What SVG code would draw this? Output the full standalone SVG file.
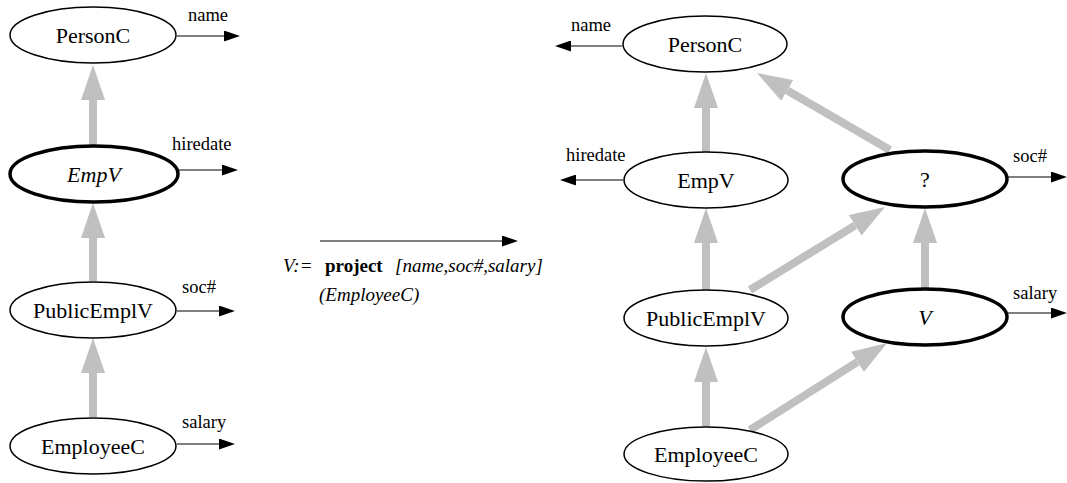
<svg xmlns="http://www.w3.org/2000/svg" width="1067" height="483" viewBox="0 0 1067 483">
<style>
.n{fill:#fff;stroke:#000;stroke-width:1.5}
.v{fill:#fff;stroke:#000;stroke-width:3.5}
.t{font-size:22px;text-anchor:middle;fill:#000}
.l{font-size:18.5px;fill:#000}
.f{font-size:19px;fill:#000}
.g{stroke:#c0c0c0;stroke-width:8;fill:none;marker-end:url(#ga)}
.b{stroke:#000;stroke-width:1.2;fill:none;marker-end:url(#ba)}
</style>
<defs>
<marker id="ga" markerUnits="userSpaceOnUse" viewBox="0 0 35 24" refX="0" refY="12" markerWidth="35" markerHeight="24" orient="auto"><path d="M0,0L35,12L0,24z" fill="#c0c0c0"/></marker>
<marker id="ba" markerUnits="userSpaceOnUse" viewBox="0 0 16 11" refX="0" refY="5.5" markerWidth="16" markerHeight="11" orient="auto"><path d="M0,0L16,5.5L0,11z" fill="#000"/></marker>
</defs>
<g id="connectors">
<line class="g" x1="93" y1="145" x2="93" y2="100"/>
<line class="g" x1="93" y1="281" x2="93" y2="238"/>
<line class="g" x1="93" y1="417" x2="93" y2="373"/>
<line class="b" x1="177" y1="36" x2="224" y2="36"/>
<line class="b" x1="179" y1="170" x2="222" y2="170"/>
<line class="b" x1="177" y1="311" x2="219" y2="311"/>
<line class="b" x1="177" y1="444" x2="219" y2="444"/>
<line class="b" x1="320" y1="241" x2="502" y2="241"/>
<line class="g" x1="706" y1="152" x2="706" y2="108"/>
<line class="g" x1="706" y1="290" x2="706" y2="243"/>
<line class="g" x1="706" y1="428" x2="706" y2="382"/>
<line class="g" x1="925" y1="288" x2="925" y2="243"/>
<line class="g" x1="890" y1="150" x2="787.3" y2="90.5"/>
<line class="g" x1="750" y1="290" x2="855.2" y2="225.3"/>
<line class="g" x1="750" y1="430" x2="857.5" y2="361.8"/>
<line class="b" x1="622" y1="46" x2="571" y2="46"/>
<line class="b" x1="623" y1="180" x2="576" y2="180"/>
<line class="b" x1="1008" y1="177" x2="1051" y2="177"/>
<line class="b" x1="1008" y1="313" x2="1051" y2="313"/>
</g>
<g font-family="Liberation Serif, serif">
<text class="l" x="188" y="21">name</text>
<text class="l" x="172" y="150">hiredate</text>
<text class="l" x="182" y="293">soc#</text>
<text class="l" x="182" y="428">salary</text>
<text class="l" x="571" y="31">name</text>
<text class="l" x="566" y="161">hiredate</text>
<text class="l" x="1013" y="162">soc#</text>
<text class="l" x="1013" y="299">salary</text>
<g id="formula">
<text class="f" x="283" y="272"><tspan font-style="italic">V:=</tspan><tspan x="325" font-weight="bold">project</tspan><tspan x="395" font-style="italic">[name,soc#,salary]</tspan></text>
<text class="f" x="319" y="301" font-style="italic">(EmployeeC)</text>
</g>
<g id="L_PersonC"><ellipse class="n" cx="93" cy="35" rx="83" ry="28"/><text class="t" x="93" y="43">PersonC</text></g>
<g id="L_EmpV"><ellipse class="v" cx="94" cy="174" rx="84" ry="28"/><text class="t" x="94" y="182" font-style="italic">EmpV</text></g>
<g id="L_PublicEmplV"><ellipse class="n" cx="93" cy="310" rx="83" ry="28"/><text class="t" x="93" y="318">PublicEmplV</text></g>
<g id="L_EmployeeC"><ellipse class="n" cx="93" cy="446" rx="83" ry="28"/><text class="t" x="93" y="454">EmployeeC</text></g>
<g id="R_PersonC"><ellipse class="n" cx="705" cy="44" rx="82" ry="28"/><text class="t" x="705" y="52">PersonC</text></g>
<g id="R_EmpV"><ellipse class="n" cx="706" cy="180" rx="82" ry="28"/><text class="t" x="706" y="188">EmpV</text></g>
<g id="R_Q"><ellipse class="v" cx="925" cy="179" rx="82" ry="28"/><text class="t" x="925" y="187">?</text></g>
<g id="R_PublicEmplV"><ellipse class="n" cx="706" cy="318" rx="82" ry="28"/><text class="t" x="706" y="326">PublicEmplV</text></g>
<g id="R_V"><ellipse class="v" cx="925" cy="317" rx="82" ry="28"/><text class="t" x="925" y="325" font-style="italic">V</text></g>
<g id="R_EmployeeC"><ellipse class="n" cx="706" cy="454" rx="82" ry="27"/><text class="t" x="706" y="462">EmployeeC</text></g>
</g>
</svg>
